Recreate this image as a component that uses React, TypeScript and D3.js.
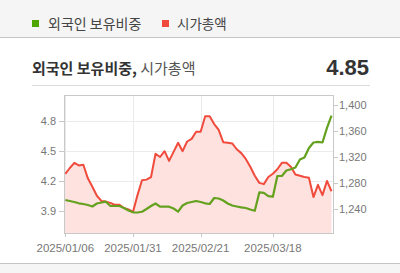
import React from 'react';
import * as d3 from 'd3';

const marketCap = [
  1294, 1303, 1311, 1307, 1308, 1287, 1274, 1260, 1252, 1251,
  1249, 1246, 1246, 1241, 1239, 1235, 1261, 1284, 1285, 1289,
  1325, 1320, 1329, 1314, 1328, 1342, 1329, 1344, 1348, 1359,
  1359, 1383, 1383, 1371, 1362, 1343, 1342, 1341, 1332, 1326,
  1317, 1305, 1291, 1280, 1278, 1289, 1294, 1301, 1311, 1311,
  1305, 1293, 1291, 1289, 1288, 1258, 1277, 1261, 1283, 1267,
];
const foreignRatio = [
  4.01, 4.0, 3.99, 3.977, 3.97, 3.96, 3.945, 3.975, 3.985, 3.993,
  3.95, 3.95, 3.95, 3.93, 3.905, 3.887, 3.885, 3.893, 3.92, 3.95,
  3.975, 3.943, 3.943, 3.943, 3.925, 3.893, 3.955, 3.98, 3.99, 4.0,
  3.99, 3.977, 3.97, 4.03, 4.025, 4.005, 3.975, 3.955, 3.945, 3.936,
  3.93, 3.915, 3.903, 4.085, 4.08, 4.048, 4.043, 4.249, 4.249, 4.304,
  4.316, 4.334, 4.413, 4.433, 4.528, 4.583, 4.588, 4.583, 4.728, 4.85,
];
const xTickIndex = [0, 15, 30, 46];
const xTickLabels = ['2025/01/06', '2025/01/31', '2025/02/21', '2025/03/18'];
const leftTicks = [3.9, 4.2, 4.5, 4.8];
const rightTicks = [1240, 1280, 1320, 1360, 1400];
const legendItems = ['외국인 보유비중', '시가총액'];
const lastValue = '4.85';

const GREEN = '#64a11e';
const RED = '#f04b3c';
const KR = '"Noto Sans CJK KR", "Noto Sans", sans-serif';
const AX = '"Liberation Sans", Arial, sans-serif';

export default function App() {
  const W = 400, H = 273;
  const px0 = 65, px1 = 333, py0 = 96, py1 = 233;
  const x = d3.scaleLinear().domain([0, marketCap.length - 1]).range([65.3, 331.5]);
  const yL = d3.scaleLinear().domain([3.681, 5.046]).range([py1, py0]);
  const yR = d3.scaleLinear().domain([1202.4, 1414.4]).range([py1, py0]);

  const redLine = d3.line<number>().x((_, i) => x(i)).y((d) => yR(d))(marketCap) || '';
  const redArea = d3.area<number>().x((_, i) => x(i)).y0(py1).y1((d) => yR(d))(marketCap) || '';
  const greenLine = d3.line<number>().x((_, i) => x(i)).y((d) => yL(d))(foreignRatio) || '';
  const fmtR = d3.format(',');

  return (
    <svg width={W} height={H} style={{ position: 'absolute', left: 0, top: 0, background: '#fff' }}>
      {/* top legend band */}
      <rect x={0} y={0} width={W} height={37} fill="#f5f5f5" />
      <line x1={0} x2={W} y1={37.5} y2={37.5} stroke="#c4c4c4" />
      <rect x={32} y={20} width={7} height={7} fill="#4fa600" />
      <text x={48} y={28.5} fontFamily={KR} fontSize={14} fill="#444">{legendItems[0]}</text>
      <rect x={162} y={20} width={7} height={7} fill={RED} />
      <text x={177} y={28.5} fontFamily={KR} fontSize={13.5} fill="#444">{legendItems[1]}</text>

      {/* title */}
      <text x={32} y={73.5} fontFamily={KR} fontSize={15} fill="#333">
        <tspan fontWeight={700}>외국인 보유비중,</tspan>
        <tspan fontWeight={400} fill="#555"> 시가총액</tspan>
      </text>
      <text x={369} y={75} textAnchor="end" fontFamily={AX} fontSize={22} fontWeight={700} fill="#333">{lastValue}</text>
      <line x1={32} x2={370} y1={85.5} y2={85.5} stroke="#dcdcdc" />

      {/* grid */}
      {leftTicks.map((t) => (
        <line key={'gy' + t} x1={px0} x2={px1} y1={Math.round(yL(t)) + 0.5} y2={Math.round(yL(t)) + 0.5} stroke="#ebebeb" />
      ))}
      {xTickIndex.map((i) => (
        <line key={'gx' + i} x1={Math.round(x(i)) + 0.5} x2={Math.round(x(i)) + 0.5} y1={py0} y2={py1} stroke="#ebebeb" />
      ))}

      {/* series */}
      <path d={redArea} fill="#fde2df" />
      <path d={redLine} fill="none" stroke={RED} strokeWidth={2} strokeLinejoin="round" />
      <path d={greenLine} fill="none" stroke={GREEN} strokeWidth={2.2} strokeLinejoin="round" />

      {/* frame */}
      <rect x={px0 - 0.5} y={py0 - 0.5} width={px1 - px0 + 1} height={py1 - py0 + 1} fill="none" stroke="#c8c8c8" />

      {/* left axis */}
      {leftTicks.map((t) => (
        <g key={'l' + t}>
          <line x1={59} x2={px0} y1={Math.round(yL(t)) + 0.5} y2={Math.round(yL(t)) + 0.5} stroke="#c8c8c8" />
          <text x={56} y={yL(t) + 4} textAnchor="end" fontFamily={AX} fontSize={11} fill="#777">{t.toFixed(1)}</text>
        </g>
      ))}
      {/* right axis */}
      {rightTicks.map((t) => (
        <g key={'r' + t}>
          <line x1={px1} x2={338} y1={Math.round(yR(t)) + 0.5} y2={Math.round(yR(t)) + 0.5} stroke="#c8c8c8" />
          <text x={339} y={yR(t) + 4} fontFamily={AX} fontSize={11} fill="#777">{fmtR(t)}</text>
        </g>
      ))}
      {/* x axis */}
      {xTickIndex.map((i, k) => (
        <g key={'x' + i}>
          <line x1={Math.round(x(i)) + 0.5} x2={Math.round(x(i)) + 0.5} y1={py1} y2={py1 + 4} stroke="#c8c8c8" />
          <text x={x(i)} y={252} textAnchor="middle" fontFamily={AX} fontSize={11.5} fill="#777">{xTickLabels[k]}</text>
        </g>
      ))}

      {/* bottom band */}
      <rect x={0} y={263} width={W} height={H - 263} fill="#f5f5f5" />
      <line x1={0} x2={W} y1={263.5} y2={263.5} stroke="#c4c4c4" />
    </svg>
  );
}
